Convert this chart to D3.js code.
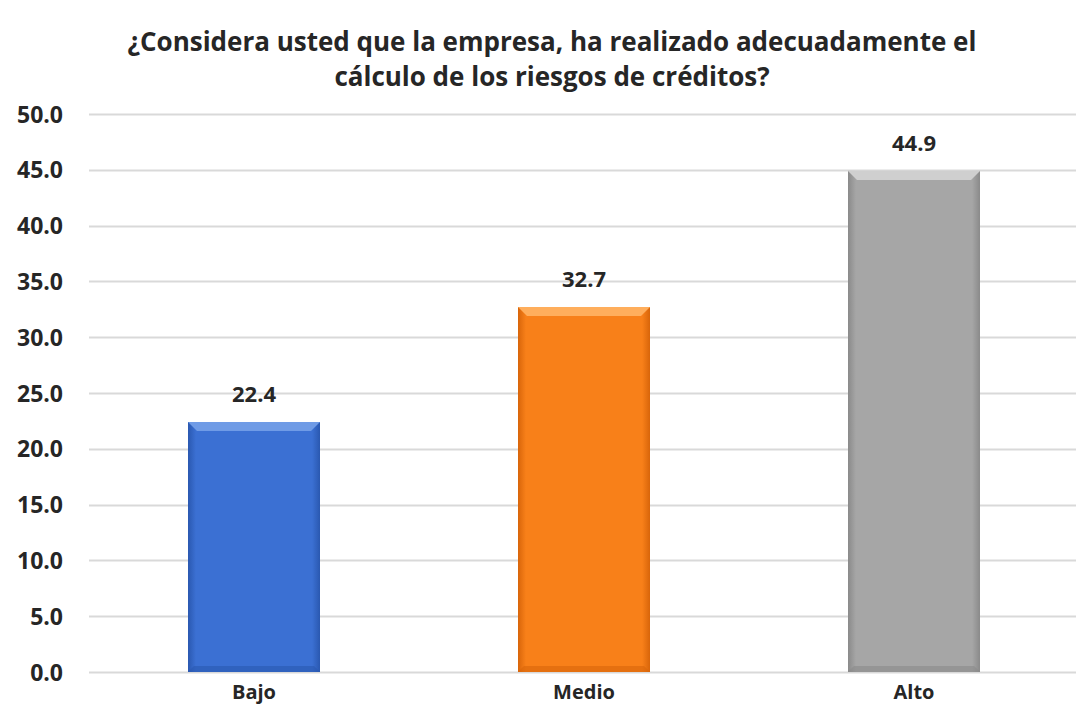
<!DOCTYPE html>
<html>
<head>
<meta charset="utf-8">
<script src="https://cdn.jsdelivr.net/npm/d3@7"></script>
<style>
  body { margin: 0; background: #fff; }
  text { font-family: "Open Sans", "Noto Sans", sans-serif; font-weight: bold; fill: #262626; }
</style>
</head>
<body>
<svg id="chart" width="1076" height="720"></svg>
<script>
const categories = ["Bajo", "Medio", "Alto"];
const values = [22.4, 32.7, 44.9];
const yTicks = [0, 5, 10, 15, 20, 25, 30, 35, 40, 45, 50];
const titleLines = [
  "¿Considera usted que la empresa, ha realizado adecuadamente el",
  "cálculo de los riesgos de créditos?"
];
const barColors = [
  { base: "#3b70d3", dark: "#2a58b0", light: "#6f9be6" },
  { base: "#f88019", dark: "#d8650a", light: "#ffae5c" },
  { base: "#a6a6a6", dark: "#8a8a8a", light: "#cfcfcf" }
];

const svg = d3.select("#chart");
const margin = { top: 114, right: 0, bottom: 48, left: 89 };
const width = 1079 - margin.left;
const height = 720 - margin.top - margin.bottom;

const x = d3.scaleBand()
  .domain(categories)
  .range([margin.left, margin.left + width])
  .paddingInner(0.6)
  .paddingOuter(0.3);

const y = d3.scaleLinear()
  .domain([0, 50])
  .range([margin.top + height, margin.top]);

// title
svg.append("g").selectAll("text")
  .data(titleLines)
  .join("text")
  .attr("x", 552)
  .attr("y", (d, i) => 51 + i * 35)
  .attr("text-anchor", "middle")
  .style("font-size", "26px")
  .text(d => d);

// gridlines
svg.append("g").selectAll("line")
  .data(yTicks)
  .join("line")
  .attr("x1", margin.left)
  .attr("x2", margin.left + width)
  .attr("y1", d => Math.round(y(d)) + 0.5)
  .attr("y2", d => Math.round(y(d)) + 0.5)
  .attr("stroke", "#d9d9d9")
  .attr("stroke-width", 2);

// y axis labels
const yAxis = d3.axisLeft(y).tickValues(yTicks).tickFormat(d3.format(".1f")).tickSize(0).tickPadding(14);
svg.append("g")
  .attr("transform", `translate(${margin.left - 12},0)`)
  .call(yAxis)
  .call(g => g.select(".domain").remove())
  .selectAll("text")
  .style("font-size", "23px")
  .attr("dy", "0.35em");

// x axis labels
const xAxis = d3.axisBottom(x).tickSize(0).tickPadding(13);
svg.append("g")
  .attr("transform", `translate(0,${margin.top + height})`)
  .call(xAxis)
  .call(g => g.select(".domain").remove())
  .selectAll("text")
  .style("font-size", "20px");

// gradients for bevel effect
const defs = svg.append("defs");
barColors.forEach((c, i) => {
  const g = defs.append("linearGradient").attr("id", "grad" + i)
    .attr("x1", "0").attr("x2", "1").attr("y1", "0").attr("y2", "0");
  g.append("stop").attr("offset", "0").attr("stop-color", c.dark);
  g.append("stop").attr("offset", "0.06").attr("stop-color", c.base);
  g.append("stop").attr("offset", "0.94").attr("stop-color", c.base);
  g.append("stop").attr("offset", "1").attr("stop-color", c.dark);
});

const data = categories.map((c, i) => ({ cat: c, value: values[i], i }));

const bars = svg.append("g").selectAll("g")
  .data(data)
  .join("g");

bars.append("rect")
  .attr("x", d => x(d.cat))
  .attr("y", d => y(d.value))
  .attr("width", x.bandwidth())
  .attr("height", d => y(0) - y(d.value))
  .attr("fill", d => `url(#grad${d.i})`);

// top bevel
bars.append("path")
  .attr("d", d => {
    const x0 = x(d.cat), x1 = x0 + x.bandwidth(), y0 = y(d.value), b = 9;
    return `M${x0},${y0}L${x1},${y0}L${x1 - b},${y0 + b}L${x0 + b},${y0 + b}Z`;
  })
  .attr("fill", d => barColors[d.i].light);

// bottom shade
bars.append("path")
  .attr("d", d => {
    const x0 = x(d.cat), x1 = x0 + x.bandwidth(), y0 = y(0), b = 6;
    return `M${x0},${y0}L${x1},${y0}L${x1 - b},${y0 - b}L${x0 + b},${y0 - b}Z`;
  })
  .attr("fill", d => barColors[d.i].dark)
  .attr("opacity", 0.6);

// value labels
bars.append("text")
  .attr("x", d => x(d.cat) + x.bandwidth() / 2)
  .attr("y", d => y(d.value) - 20)
  .attr("text-anchor", "middle")
  .style("font-size", "22px")
  .text(d => d3.format(".1f")(d.value));
</script>
</body>
</html>
